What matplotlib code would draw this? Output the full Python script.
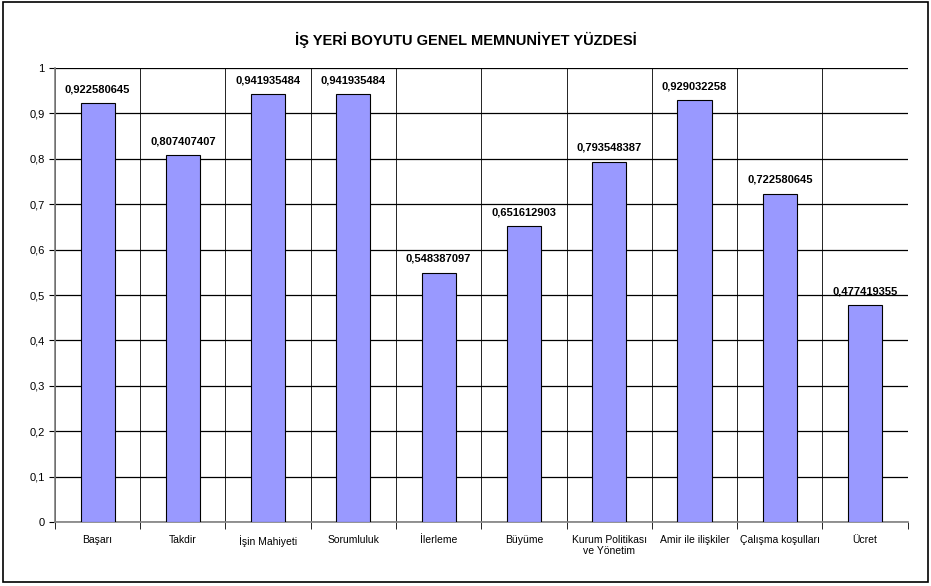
import numpy as np
import matplotlib.pyplot as plt
from matplotlib.patches import Rectangle

plt.rcParams['font.family'] = ['Liberation Sans', 'DejaVu Sans']

categories = ['Başarı', 'Takdir', 'İşin Mahiyeti', 'Sorumluluk', 'İlerleme', 'Büyüme',
              'Kurum Politikası\nve Yönetim', 'Amir ile ilişkiler', 'Çalışma koşulları', 'Ücret']
values = [0.922580645, 0.807407407, 0.941935484, 0.941935484, 0.548387097,
          0.651612903, 0.793548387, 0.929032258, 0.722580645, 0.477419355]
labels = ['0,922580645', '0,807407407', '0,941935484', '0,941935484', '0,548387097',
          '0,651612903', '0,793548387', '0,929032258', '0,722580645', '0,477419355']
yticks = [0, 0.1, 0.2, 0.3, 0.4, 0.5, 0.6, 0.7, 0.8, 0.9, 1]
ytick_labels = ['0', '0,1', '0,2', '0,3', '0,4', '0,5', '0,6', '0,7', '0,8', '0,9', '1']

fig = plt.figure(figsize=(9.31, 5.86), dpi=100)
ax = fig.add_axes([0.059, 0.109, 0.916, 0.775])

x = np.arange(len(categories))
ax.bar(x, values, width=0.4, color='#9999ff', edgecolor='black', linewidth=0.8, zorder=3)

for xi, v, lab in zip(x, values, labels):
    ax.text(xi, v + 0.02, lab, ha='center', va='bottom', fontsize=8, fontweight='bold')

ax.set_xlim(-0.5, len(categories) - 0.5)
ax.set_ylim(0, 1)
ax.set_yticks(yticks)
ax.set_yticklabels(ytick_labels, fontsize=8)
ax.set_xticks(x)
ax.set_xticklabels(categories, fontsize=7.5)
ax.set_xticks(np.arange(len(categories) + 1) - 0.5, minor=True)
ax.tick_params(axis='x', which='major', length=0, pad=9)
ax.tick_params(axis='x', which='minor', length=5, direction='out')
ax.tick_params(axis='y', length=4, direction='out')

ax.grid(axis='y', which='major', color='black', linewidth=0.9, zorder=0)
ax.grid(axis='x', which='minor', color='black', linewidth=0.6, zorder=0)
ax.set_axisbelow(True)
for side in ['top', 'right']:
    ax.spines[side].set_visible(False)
ax.spines['left'].set_color('#808080')
ax.spines['bottom'].set_color('#808080')
ax.spines['left'].set_linewidth(1.2)
ax.spines['bottom'].set_linewidth(1.2)

fig.text(0.5, 0.932, 'İŞ YERİ BOYUTU GENEL MEMNUNİYET YÜZDESİ', ha='center', va='center',
         fontsize=10.5, fontweight='bold')

fig.patches.append(Rectangle((0.003, 0.006), 0.994, 0.99, transform=fig.transFigure,
                             fill=False, edgecolor='black', linewidth=1.2))

fig.savefig('out.png', dpi=100)
